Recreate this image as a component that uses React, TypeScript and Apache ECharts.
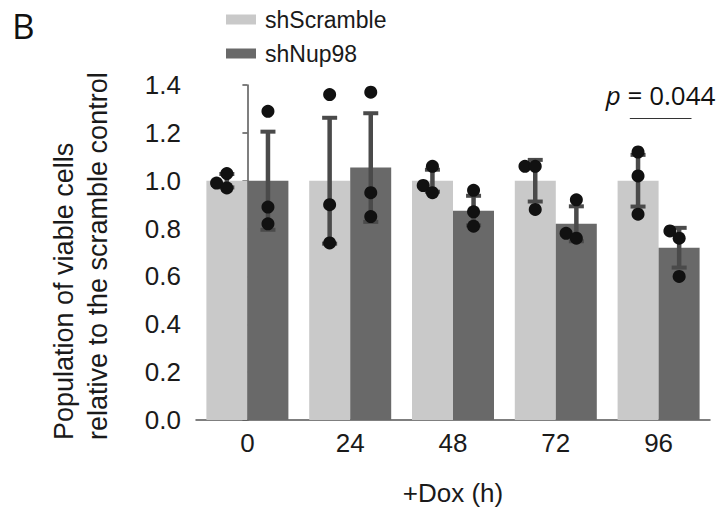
import React, { useEffect, useRef } from 'react';
import * as echarts from 'echarts';

const categories = ['0', '24', '48', '72', '96'];
const seriesNames = ['shScramble', 'shNup98'];
const meanScramble = [1.0, 1.0, 1.0, 1.0, 1.0];
const meanNup98 = [1.0, 1.055, 0.875, 0.82, 0.72];
const errScramble = [0.028, 0.263, 0.046, 0.087, 0.108];
const errNup98 = [0.205, 0.227, 0.062, 0.073, 0.083];
const pointsScramble = [
  [0.99, 1.03, 0.97],
  [1.36, 0.9, 0.74],
  [1.06, 0.98, 0.95],
  [1.06, 1.06, 0.88],
  [1.12, 1.02, 0.86],
];
const pointsNup98 = [
  [1.29, 0.89, 0.82],
  [1.37, 0.95, 0.85],
  [0.96, 0.87, 0.81],
  [0.92, 0.78, 0.76],
  [0.79, 0.76, 0.6],
];
// small horizontal jitter of individual points (category units)
const jitterScramble = [
  [-0.1, 0, 0],
  [0, 0, 0],
  [0, -0.09, 0],
  [-0.1, 0, 0],
  [0, 0, 0],
];
const jitterNup98 = [
  [0, 0, 0],
  [0, 0, 0],
  [0, 0, 0],
  [0, -0.1, 0],
  [-0.09, 0, 0],
];
const yMin = 0;
const yMax = 1.4;
const yInterval = 0.2;
const sigCategory = 4;
const sigLineValue = 1.26;
const sigTextValue = 1.358;
const sigPrefix = 'p';
const sigRest = ' = 0.044';
const panelLetter = 'B';
const yName = 'Population of viable cells\nrelative to the scramble control';
const xName = '+Dox (h)';

const LIGHT = '#c9c9c9';
const DARK = '#696969';
const ERR = '#4a4a4a';
const DOT = '#111111';
const SANS = '"Liberation Sans", Arial, Helvetica, sans-serif';
const ALT = '"Open Sans", "Noto Sans", sans-serif';
const BAR_OFFSET = 0.2;

export default function App() {
  const ref = useRef<HTMLDivElement>(null);
  useEffect(() => {
    if (!ref.current) return;
    const chart = echarts.init(ref.current, undefined, { renderer: 'svg' });

    const errData = (means: number[], errs: number[], off: number) =>
      means.map((m, i) => [i + off, m, errs[i]]);
    const dotData = (pts: number[][], jit: number[][], off: number) => {
      const out: number[][] = [];
      pts.forEach((arr, i) => arr.forEach((v, k) => out.push([i + off + jit[i][k], v])));
      return out;
    };

    const renderErr = (params: any, api: any) => {
      const x = api.value(0);
      const m = api.value(1);
      const e = api.value(2);
      const top = api.coord([x, m + e]);
      const bot = api.coord([x, m - e]);
      const half = 7.5;
      return {
        type: 'group',
        children: [
          { type: 'line', shape: { x1: top[0], y1: top[1], x2: bot[0], y2: bot[1] }, style: { stroke: ERR, lineWidth: 4.5 } },
          { type: 'line', shape: { x1: top[0] - half, y1: top[1], x2: top[0] + half, y2: top[1] }, style: { stroke: ERR, lineWidth: 4 } },
          { type: 'line', shape: { x1: bot[0] - half, y1: bot[1], x2: bot[0] + half, y2: bot[1] }, style: { stroke: ERR, lineWidth: 4 } },
        ],
      };
    };

    const renderSig = (params: any, api: any) => {
      const x = api.value(0);
      const yl = api.value(1);
      const yt = api.value(2);
      const l1 = api.coord([x - 0.28, yl]);
      const l2 = api.coord([x + 0.32, yl]);
      const t = api.coord([x, yt]);
      return {
        type: 'group',
        children: [
          { type: 'line', shape: { x1: l1[0], y1: l1[1], x2: l2[0], y2: l2[1] }, style: { stroke: '#333', lineWidth: 1.2 } },
          {
            type: 'text',
            x: t[0] + 2,
            y: t[1],
            style: {
              text: '{i|' + sigPrefix + '}' + sigRest,
              rich: { i: { fontStyle: 'italic', fontSize: 26, fontFamily: ALT, fill: '#111' } },
              fontSize: 26,
              fontFamily: ALT,
              fill: '#111',
              textAlign: 'center',
              textVerticalAlign: 'middle',
            },
          },
        ],
      };
    };

    chart.setOption({
      animation: false,
      backgroundColor: '#ffffff',
      grid: { left: 196, right: 12, top: 85, bottom: 93, containLabel: false },
      legend: {
        data: seriesNames,
        orient: 'vertical',
        left: 226,
        top: 8,
        padding: 0,
        itemGap: 11,
        itemWidth: 30,
        itemHeight: 10,
        icon: 'rect',
        textStyle: { fontSize: 23, color: '#1a1a1a', fontFamily: SANS, padding: [0, 0, 0, 4] },
      },
      xAxis: [
        {
          type: 'category',
          data: categories,
          axisLine: { lineStyle: { color: '#555', width: 1.5 } },
          axisTick: { alignWithLabel: true, length: 5, lineStyle: { color: '#555', width: 1.5 } },
          axisLabel: { fontSize: 26, color: '#1a1a1a', fontFamily: SANS, margin: 10 },
          name: xName,
          nameLocation: 'middle',
          nameGap: 60,
          nameTextStyle: { fontSize: 26, color: '#1a1a1a', fontFamily: SANS },
        },
        { type: 'value', min: -0.5, max: 4.5, show: false },
      ],
      yAxis: {
        type: 'value',
        min: yMin,
        max: yMax,
        interval: yInterval,
        axisLine: { show: true, lineStyle: { color: '#555', width: 1.5 } },
        axisTick: { show: true, length: 5, lineStyle: { color: '#555', width: 1.5 } },
        splitLine: { show: false },
        axisLabel: { fontSize: 26, color: '#1a1a1a', fontFamily: SANS, margin: 15, formatter: (v: number) => v.toFixed(1) },
      },
      graphic: [
        {
          type: 'text',
          left: 12,
          top: 8,
          style: { text: panelLetter, fontSize: 35, fontFamily: ALT, fill: '#111' },
        },
        {
          type: 'text',
          x: 80.5,
          y: 440,
          rotation: Math.PI / 2,
          style: {
            text: yName,
            fontSize: 27,
            lineHeight: 34,
            fontFamily: SANS,
            fill: '#1a1a1a',
            textAlign: 'left',
            textVerticalAlign: 'middle',
          },
        },
      ],
      series: [
        { name: seriesNames[0], type: 'bar', data: meanScramble, barWidth: 41, barGap: '0%', itemStyle: { color: LIGHT }, z: 2 },
        { name: seriesNames[1], type: 'bar', data: meanNup98, barWidth: 41, barGap: '0%', itemStyle: { color: DARK }, z: 2 },
        { type: 'custom', xAxisIndex: 1, renderItem: renderErr, data: errData(meanScramble, errScramble, -BAR_OFFSET), z: 3 },
        { type: 'custom', xAxisIndex: 1, renderItem: renderErr, data: errData(meanNup98, errNup98, BAR_OFFSET), z: 3 },
        { type: 'scatter', xAxisIndex: 1, data: dotData(pointsScramble, jitterScramble, -BAR_OFFSET), symbolSize: 13, itemStyle: { color: DOT, opacity: 1 }, z: 4 },
        { type: 'scatter', xAxisIndex: 1, data: dotData(pointsNup98, jitterNup98, BAR_OFFSET), symbolSize: 13, itemStyle: { color: DOT, opacity: 1 }, z: 4 },
        { type: 'custom', xAxisIndex: 1, renderItem: renderSig, data: [[sigCategory, sigLineValue, sigTextValue]], z: 5 },
      ],
    });
    return () => chart.dispose();
  }, []);
  return <div ref={ref} style={{ position: 'fixed', left: 0, top: 0, width: 722, height: 513 }} />;
}
